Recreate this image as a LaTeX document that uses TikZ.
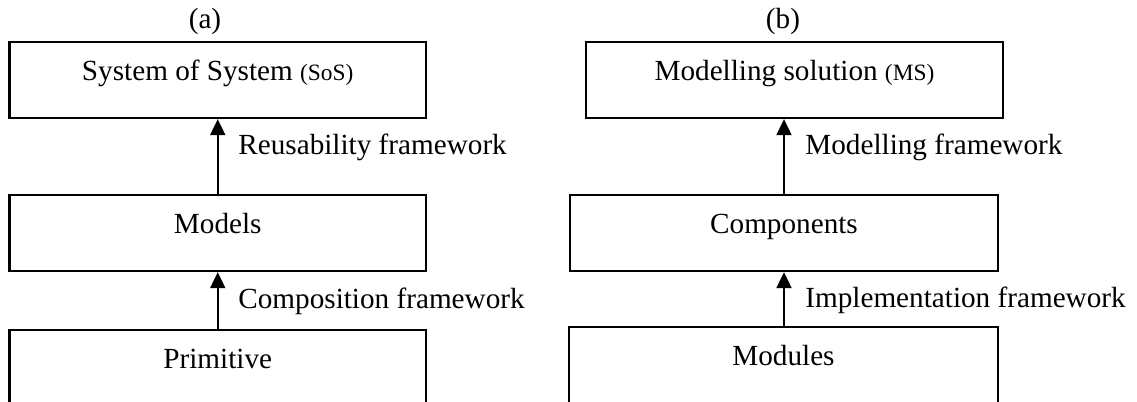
\documentclass[tikz,border=0pt]{standalone}
\usepackage{fontspec}
\setmainfont{Liberation Serif}
\usetikzlibrary{arrows.meta,calc}
\begin{document}
\begin{tikzpicture}[x=0.5pt,y=-0.5pt,
  box/.style={draw=black,line width=1.15pt,rectangle,inner xsep=0pt,inner ysep=0pt,
    text height=19pt,text depth=19pt,minimum height=38pt,
    font=\fontsize{14.6pt}{17pt}\selectfont},
  lbl/.style={anchor=base west,inner sep=0pt,font=\fontsize{14.6pt}{17pt}\selectfont},
  ttl/.style={anchor=base,inner sep=0pt,font=\fontsize{14.6pt}{17pt}\selectfont},
  arr/.style={line width=1pt,-{Triangle[width=7.5pt,length=8pt]}}]
\useasboundingbox (0,0) rectangle (1137,402);
\clip (0,0) rectangle (1137,402);
% panel (a)
\node[ttl] (ta) at (205,28) {(a)};
\node[box,minimum width=208.25pt] (a1) at (217.75,80) {System of System {\fontsize{11.7pt}{13pt}\selectfont(SoS)}};
\node[box,minimum width=208.25pt] (a2) at (217.75,233) {Models};
\node[box,minimum width=208.25pt] (a3) at (217.75,368) {Primitive};
\draw[arr] (a2.north) -- (a1.south);
\draw[arr] (a3.north) -- (a2.south);
\node[lbl] (la1) at (238,154) {Reusability framework};
\node[lbl] (la2) at (238,308) {Composition framework};
% panel (b)
\node[ttl] (tb) at (783,28) {(b)};
\node[box,minimum width=208.5pt] (b1) at (794.5,80) {Modelling solution {\fontsize{11.7pt}{13pt}\selectfont(MS)}};
\node[box,minimum width=214pt] (b2) at (784,233) {Components};
\node[box,minimum width=214.5pt] (b3) at (783.5,365) {Modules};
\draw[arr] (b2.north) -- (b2.north |- b1.south);
\draw[arr] (b3.north -| b2.south) -- (b2.south);
\node[lbl] (lb1) at (805,154) {Modelling framework};
\node[lbl] (lb2) at (805,307) {Implementation framework};
\end{tikzpicture}
\end{document}
